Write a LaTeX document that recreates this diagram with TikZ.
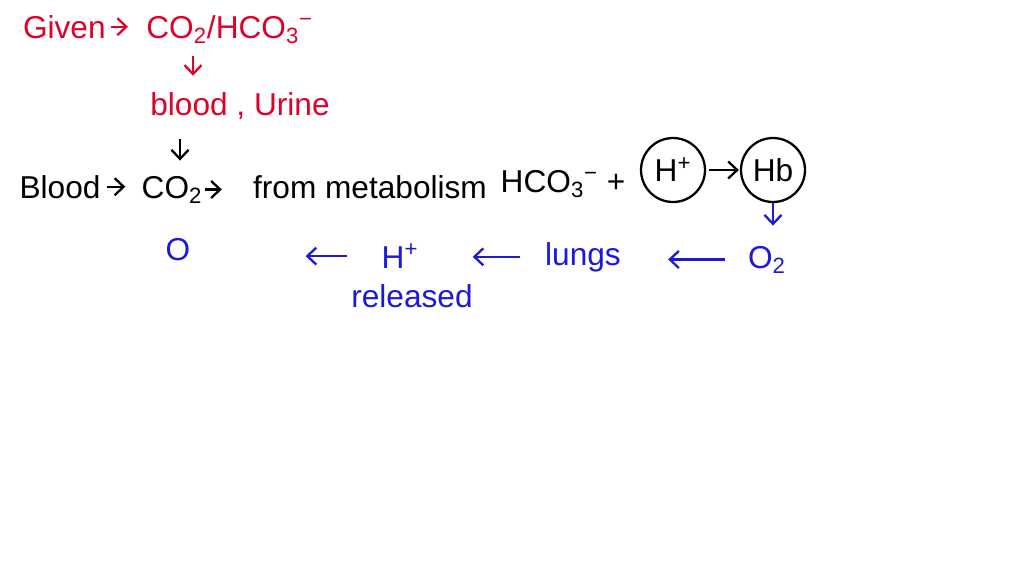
\documentclass[tikz,border=0pt]{standalone}
\usepackage{fontspec}
\setmainfont{Liberation Sans}
\usetikzlibrary{arrows.meta}
\definecolor{inkred}{RGB}{224,0,42}
\definecolor{inkblue}{RGB}{26,26,216}
\tikzset{
  txt/.style={anchor=base, inner sep=0pt, font=\fontsize{18}{22}\selectfont},
  ring/.style={circle, draw, line width=1.3pt, minimum size=1.28cm, inner sep=0pt, font=\fontsize{18}{22}\selectfont},
  arr/.style={line width=1.3pt, -{Straight Barb[length=1.8mm,width=3.4mm]}},
}
\begin{document}
\begin{tikzpicture}[x=0.02cm,y=-0.02cm]
\useasboundingbox[fill=white] (0,0) rectangle (1024,576);
% red
\node[txt, inkred, anchor=base east] (given) at (106,38) {Given};
\node[txt, inkred, anchor=base west] (co2h) at (146,38) {CO\textsubscript{2}/HCO\textsubscript{3}\textsuperscript{−}};
\node[txt, inkred] (bu) at (240,115) {blood , Urine};
% black
\node[txt] (blood) at (60,198) {Blood};
\node[txt] (co2) at (172,198) {CO\textsubscript{2}};
\node[txt] (from) at (370,198) {from metabolism};
\node[txt] (hco3) at (563,192) {HCO\textsubscript{3}\textsuperscript{−} +};
\node[ring] (hplus) at (673,170) {H\textsuperscript{+}};
\node[ring] (hb) at (773,170) {Hb};
% blue
\node[txt, inkblue] (o2) at (767,268) {O\textsubscript{2}};
\node[txt, inkblue] (lungs) at (583,265) {lungs};
\node[txt, inkblue] (hrel) at (400,268) {H\textsuperscript{+}};
\node[txt, inkblue] (rel) at (412,307) {released};
\node[txt, inkblue] (o) at (178,260) {O};
% connectors
\draw[arr, inkred, shorten <=5*0.02cm, shorten >=18*0.02cm] (given.east) -- (given.east -| co2h.west);
\draw[arr, inkred, shorten <=12*0.02cm, shorten >=16*0.02cm] (co2h.south -| 193,0) -- (bu.north -| 193,0);
\draw[arr, shorten <=20*0.02cm, shorten >=15*0.02cm] (bu.south -| 180,0) -- (co2.north -| 180,0);
\draw[arr, shorten <=6*0.02cm, shorten >=16*0.02cm] (blood.east) -- (blood.east -| co2.west);
\draw[arr, shorten <=2*0.02cm, shorten >=31*0.02cm] (co2.east) -- (co2.east -| from.west);
\draw[arr, shorten <=3*0.02cm, shorten >=1*0.02cm] (hplus.east) -- (hb.west);
\draw[arr, inkblue, shorten >=20*0.02cm] (hb.south) -- (hb.south |- o2.north);
\draw[arr, inkblue, shorten <=23*0.02cm, shorten >=47*0.02cm] (o2.west) -- (o2.west -| lungs.east);
\draw[arr, inkblue, shorten <=25*0.02cm, shorten >=54*0.02cm] (lungs.west) -- (lungs.west -| hrel.east);
\draw[arr, inkblue, shorten <=34*0.02cm, shorten >=115*0.02cm] (hrel.west) -- (hrel.west -| o.east);
\end{tikzpicture}
\end{document}
